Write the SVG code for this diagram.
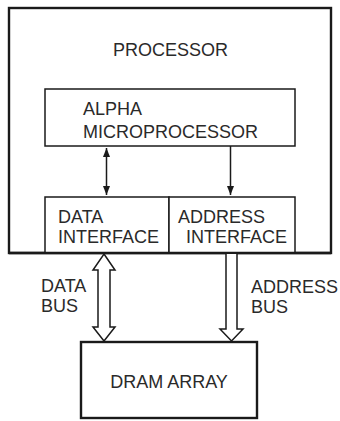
<svg xmlns="http://www.w3.org/2000/svg" width="340" height="421" viewBox="0 0 340 421">
<style>
.box{fill:#fff;stroke:#1a1a1a;stroke-width:1.5}
.outer{fill:#fff;stroke:#1a1a1a;stroke-width:2.4}
.t{font-family:"Liberation Sans",Arial,sans-serif;font-size:18px;fill:#2a2a2a}
.bus{fill:#fff;stroke:#1a1a1a;stroke-width:1.5;stroke-linejoin:miter}
.ln{stroke:#1a1a1a;stroke-width:1.5;fill:none}
</style>
<defs>
<marker id="ah" viewBox="0 0 10 10" refX="10" refY="5" markerWidth="9" markerHeight="7" orient="auto-start-reverse" markerUnits="userSpaceOnUse" preserveAspectRatio="none">
<path d="M0,0 L10,5 L0,10 Z" fill="#1a1a1a"/>
</marker>
</defs>
<rect width="340" height="421" fill="#fff"/>
<g id="processor">
<rect class="outer" x="9" y="8" width="322" height="245"/>
<text class="t" x="170.5" y="56" text-anchor="middle">PROCESSOR</text>
</g>
<g id="alpha">
<rect class="box" x="45" y="89" width="250" height="57"/>
<text class="t" x="83" y="115">ALPHA</text>
<text class="t" x="83" y="138">MICROPROCESSOR</text>
</g>
<g id="data-interface">
<rect class="box" x="45" y="197" width="124" height="56"/>
<text class="t" x="58" y="223">DATA</text>
<text class="t" x="58" y="243">INTERFACE</text>
</g>
<g id="address-interface">
<rect class="box" x="169" y="197" width="126" height="56"/>
<text class="t" x="178" y="223">ADDRESS</text>
<text class="t" x="186" y="243">INTERFACE</text>
</g>
<line x1="9" y1="253" x2="331" y2="253" stroke="#1a1a1a" stroke-width="2.4"/>
<g id="dram">
<rect class="outer" x="81" y="342" width="176" height="76"/>
<text class="t" x="169" y="388" text-anchor="middle">DRAM ARRAY</text>
</g>
<g id="connectors">
<line class="ln" x1="106.5" y1="148" x2="106.5" y2="195" marker-start="url(#ah)" marker-end="url(#ah)"/>
<line class="ln" x1="230.5" y1="146" x2="230.5" y2="195" marker-end="url(#ah)"/>
<path class="bus" d="M104,254 L115,270 L110,270 L110,327 L115,327 L104,341 L93,327 L98,327 L98,270 L93,270 Z"/>
<path class="bus" d="M226,254 L226,329 L220,329 L231.5,341 L243,329 L237,329 L237,254"/>
</g>
<g id="labels">
<text class="t" x="41" y="292">DATA</text>
<text class="t" x="41" y="312">BUS</text>
<text class="t" x="251" y="293">ADDRESS</text>
<text class="t" x="251" y="313">BUS</text>
</g>
</svg>
